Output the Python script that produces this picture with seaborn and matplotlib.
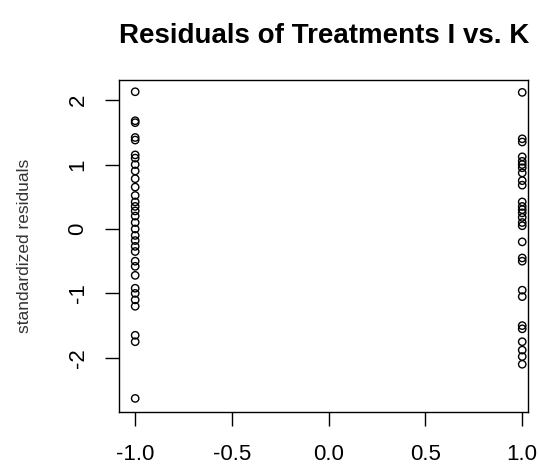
import pandas as pd
import matplotlib
matplotlib.use("Agg")
import matplotlib.pyplot as plt
import seaborn as sns

# standardized residuals, treatment I (x=-1) and K (x=1)
resid_i = [2.13, 1.68, 1.65, 1.42, 1.38, 1.15, 1.10, 1.00, 0.90, 0.78, 0.65, 0.52,
           0.42, 0.35, 0.28, 0.20, 0.10, 0.00, -0.10, -0.18, -0.27, -0.35, -0.50,
           -0.58, -0.72, -0.92, -1.00, -1.10, -1.20, -1.65, -1.75, -2.63]
resid_k = [2.12, 1.40, 1.35, 1.12, 1.05, 1.00, 0.95, 0.87, 0.75, 0.68, 0.42, 0.35,
           0.30, 0.25, 0.18, 0.10, 0.05, -0.20, -0.45, -0.50, -0.95, -1.05, -1.50,
           -1.55, -1.75, -1.88, -1.98, -2.10]
x_ticks = [-1.0, -0.5, 0.0, 0.5, 1.0]
y_ticks = [-2, -1, 0, 1, 2]

df = pd.DataFrame({
    "group": [-1] * len(resid_i) + [1] * len(resid_k),
    "resid": resid_i + resid_k,
})

sns.set_theme(style="ticks")
plt.rcParams["font.family"] = ["Liberation Sans", "DejaVu Sans"]
plt.rcParams["text.color"] = "black"
plt.rcParams["axes.labelcolor"] = "black"

fig = plt.figure(figsize=(5.39, 4.66), dpi=100)
ax = fig.add_axes([0.221, 0.116, 0.759, 0.712])

sns.scatterplot(data=df, x="group", y="resid", ax=ax, marker="o", s=28,
                facecolor="none", edgecolor="black", linewidth=1.0)

ax.set_xlim(-1.083, 1.031)
ax.set_ylim(-2.84, 2.31)
ax.set_xticks(x_ticks)
ax.set_xticklabels([f"{v:.1f}" for v in x_ticks])
ax.set_yticks(y_ticks)
ax.set_yticklabels([str(v) for v in y_ticks], rotation=90, va="center")
ax.tick_params(axis="both", length=10, width=1, colors="black", labelsize=16)
ax.tick_params(axis="x", pad=13)
ax.tick_params(axis="y", pad=12)
for s in ax.spines.values():
    s.set_visible(True)
    s.set_linewidth(1)
    s.set_color("black")

ax.set_xlabel("")
ax.set_ylabel("standardized residuals", fontsize=12.5, color="#333333")
ax.yaxis.set_label_coords(-0.213, 0.5)
fig.suptitle("Residuals of Treatments I vs. K", x=0.601, y=0.95,
             fontsize=20, fontweight="bold", color="black")

fig.savefig("out.png", dpi=100)
